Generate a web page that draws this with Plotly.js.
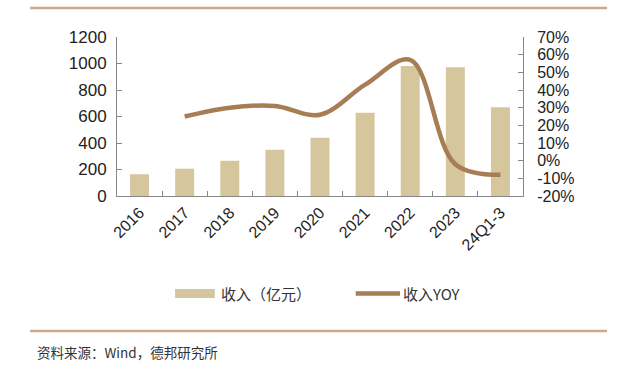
<!DOCTYPE html>
<html><head><meta charset="utf-8">
<script src="https://cdn.plot.ly/plotly-3.0.1.min.js"></script>
<style>html,body{margin:0;padding:0;background:#fff}#chart{width:640px;height:370px}</style>
</head><body><div id="chart"></div>
<script>
var categories = ['2016','2017','2018','2019','2020','2021','2022','2023','24Q1-3'];
var revenue = [164, 206, 266, 349, 440, 629, 981, 971, 669];
var yoyCats = ['2017','2018','2019','2020','2021','2022','2023','24Q1-3'];
var yoy = [25, 30, 31, 26, 43, 57, -2, -8];
var yoyTickVals = [-20,-10,0,10,20,30,40,50,60,70];
var yoyTickText = ['-20%','-10%','0%','10%','20%','30%','40%','50%','60%','70%'];
var seriesNames = ['收入（亿元）', '收入YOY'];
var sourceText = '资料来源：Wind，德邦研究所';

var barColor = '#d6c69e', lineColor = '#a77d55', ruleColor = '#c9aa8c';
var font = 'Liberation Sans, Arial, sans-serif';
var cjk = 'Noto Sans CJK SC, sans-serif';

var traces = [
  {type:'bar', x:categories, y:revenue, name:seriesNames[0], marker:{color:barColor}, width:0.42, yaxis:'y', hoverinfo:'none'},
  {type:'scatter', mode:'lines', x:yoyCats, y:yoy, name:seriesNames[1], yaxis:'y2',
   line:{color:lineColor, width:4.5, shape:'spline', smoothing:1}, hoverinfo:'none'}
];
var layout = {
  width:640, height:370, margin:{l:117, r:117, t:37, b:174},
  paper_bgcolor:'#fff', plot_bgcolor:'#fff', showlegend:false,
  font:{family:font, size:17, color:'#222'},
  xaxis:{type:'category', tickson:'boundaries', ticks:'inside', ticklen:5, tickcolor:'#888',
    showline:true, linecolor:'#888', linewidth:1, showgrid:false, tickangle:-45,
    tickfont:{size:16}, range:[-0.5, 8.5]},
  yaxis:{range:[0,1200], dtick:200, ticks:'inside', ticklen:5, tickcolor:'#888',
    showline:true, linecolor:'#888', showgrid:false, zeroline:false, tickfont:{size:17}, ticklabelstandoff:6},
  yaxis2:{overlaying:'y', side:'right', range:[-20,70], tickvals:yoyTickVals, ticktext:yoyTickText,
    ticks:'inside', ticklen:5, tickcolor:'#888', showline:true, linecolor:'#888',
    showgrid:false, zeroline:false, tickfont:{size:16}, ticklabelstandoff:10},
  shapes:[
    {type:'line', xref:'paper', yref:'paper', x0:-0.214, x1:1.207, y0:1.182, y1:1.182, line:{color:ruleColor, width:2.5}},
    {type:'line', xref:'paper', yref:'paper', x0:-0.214, x1:1.207, y0:-0.849, y1:-0.849, line:{color:ruleColor, width:2.5}},
    {type:'rect', xref:'paper', yref:'paper', x0:0.143, x1:0.241, y0:-0.642, y1:-0.585, fillcolor:barColor, line:{width:0}},
    {type:'line', xref:'paper', yref:'paper', x0:0.588, x1:0.697, y0:-0.613, y1:-0.613, line:{color:lineColor, width:4.5}}
  ],
  annotations:[
    {xref:'paper', yref:'paper', x:0.252, y:-0.613, xanchor:'left', yanchor:'middle', showarrow:false,
     text:seriesNames[0], font:{family:cjk, size:15, color:'#333'}},
    {xref:'paper', yref:'paper', x:0.700, y:-0.613, xanchor:'left', yanchor:'middle', showarrow:false,
     text:seriesNames[1], font:{family:cjk, size:15, color:'#333'}},
    {xref:'paper', yref:'paper', x:-0.203, y:-0.981, xanchor:'left', yanchor:'middle', showarrow:false,
     text:sourceText, font:{family:cjk, size:13.5, color:'#333'}}
  ]
};
Plotly.newPlot('chart', traces, layout, {displayModeBar:false, staticPlot:true});
</script></body></html>
